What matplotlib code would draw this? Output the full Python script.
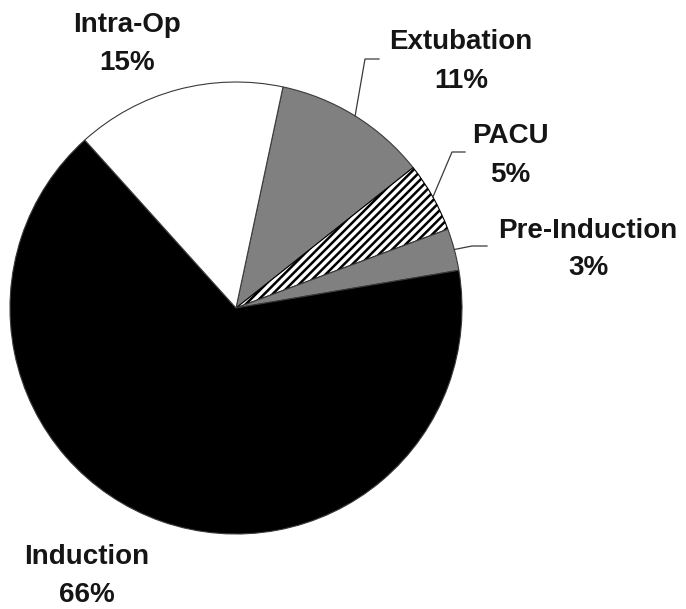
import numpy as np
import matplotlib
matplotlib.use("Agg")
import matplotlib.pyplot as plt

# data, clockwise from the top
labels = ["Extubation", "PACU", "Pre-Induction", "Induction", "Intra-Op"]
values = [11, 5, 3, 66, 15]
colors = ["#808080", "white", "#808080", "black", "white"]
hatches = [None, "////", None, None, None]

W, H = 686, 609
plt.rcParams["font.family"] = ["Liberation Sans", "DejaVu Sans"]
plt.rcParams["hatch.linewidth"] = 1.8

fig = plt.figure(figsize=(W / 100, H / 100), dpi=100)
ax = fig.add_axes([0, 0, 1, 1])

cx, cy, r = 236, H - 308, 226
wedges, _ = ax.pie(values, colors=colors, startangle=78, counterclock=False,
                   center=(cx, cy), radius=r,
                   wedgeprops=dict(edgecolor="#3a3a3a", linewidth=0.8))
for w, h in zip(wedges, hatches):
    if h:
        w.set_hatch(h)
        w.set_edgecolor("black")

ax.set_xlim(0, W)
ax.set_ylim(0, H)
ax.axis("off")

# label layout in image pixels: centre x, baseline of name, baseline of percent
label_pos = {
    "Intra-Op": (127, 32, 70),
    "Extubation": (461, 49, 88),
    "PACU": (510, 143, 182),
    "Pre-Induction": (588, 238, 275),
    "Induction": (87, 564, 602),
}
# leader lines: elbow and end point in image pixels
leaders = {
    "Extubation": [(365, 59), (379, 59)],
    "PACU": [(452, 152), (465, 152)],
    "Pre-Induction": [(472, 246), (487, 246)],
}

for w, name, v in zip(wedges, labels, values):
    x, yb1, yb2 = label_pos[name]
    ax.text(x, H - yb1, name, ha="center", va="baseline", fontsize=20,
            fontweight="bold", color="#151515")
    ax.text(x, H - yb2, f"{v}%", ha="center", va="baseline", fontsize=20,
            fontweight="bold", color="#151515")
    if name in leaders:
        mid = np.deg2rad((w.theta1 + w.theta2) / 2)
        pts = [(cx + r * np.cos(mid), cy + r * np.sin(mid))]
        pts += [(px, H - py) for px, py in leaders[name]]
        xs, ys = zip(*pts)
        ax.plot(xs, ys, color="#3a3a3a", linewidth=0.9)

fig.savefig("out.png", dpi=100)
